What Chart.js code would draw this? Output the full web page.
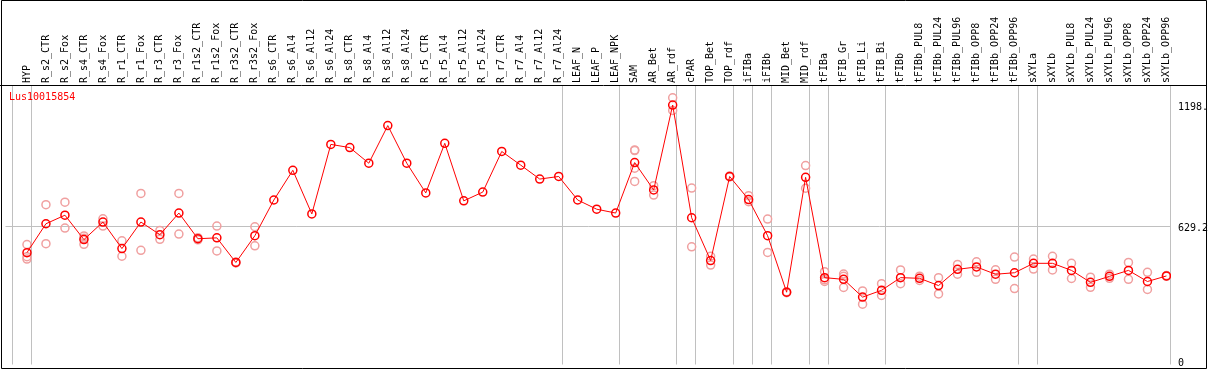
<!DOCTYPE html>
<html>
<head>
<meta charset="utf-8">
<script src="https://cdn.jsdelivr.net/npm/chart.js@4/dist/chart.umd.min.js"></script>
<style>
html,body{margin:0;padding:0;background:#fff;}
#wrap{width:1209px;height:370px;position:relative;}
</style>
</head>
<body>
<div id="wrap"><canvas id="c" width="1209" height="370"></canvas></div>
<script>
const geneName = "Lus10015854";
const categories = ["HYP","R_s2_CTR","R_s2_Fox","R_s4_CTR","R_s4_Fox","R_r1_CTR","R_r1_Fox","R_r3_CTR","R_r3_Fox","R_r1s2_CTR","R_r1s2_Fox","R_r3s2_CTR","R_r3s2_Fox","R_s6_CTR","R_s6_Al4","R_s6_Al12","R_s6_Al24","R_s8_CTR","R_s8_Al4","R_s8_Al12","R_s8_Al24","R_r5_CTR","R_r5_Al4","R_r5_Al12","R_r5_Al24","R_r7_CTR","R_r7_Al4","R_r7_Al12","R_r7_Al24","LEAF_N","LEAF_P","LEAF_NPK","SAM","AR_Bet","AR_rdf","cPAR","TOP_Bet","TOP_rdf","iFIBa","iFIBb","MID_Bet","MID_rdf","tFIBa","tFIB_Gr","tFIB_Li","tFIB_Bi","tFIBb","tFIBb_PUL8","tFIBb_PUL24","tFIBb_PUL96","tFIBb_OPP8","tFIBb_OPP24","tFIBb_OPP96","sXYLa","sXYLb","sXYLb_PUL8","sXYLb_PUL24","sXYLb_PUL96","sXYLb_OPP8","sXYLb_OPP24","sXYLb_OPP96"];
const meanValues = [508,643,683,569,651,527,651,592,693,573,577,462,587,754,893,689,1014,999,926,1102,926,787,1019,750,791,981,917,852,864,754,711,693,929,801,1198,671,471,864,756,587,323,860,391,383,300,332,391,388,354,430,441,407,414,458,458,425,369,397,425,373,399];
const rep1 = [546,732,744,586,666,563,785,612,785,578,632,464,629,null,null,null,null,null,null,null,null,null,null,null,null,null,null,null,null,null,null,null,988,821,1232,810,491,866,774,665,325,915,419,408,329,363,427,398,391,453,465,428,487,478,491,458,393,407,462,416,401];
const rep2 = [489,550,623,547,632,491,519,570,595,568,516,460,540,null,null,null,null,null,null,null,null,null,null,null,null,null,null,null,null,null,null,null,985,777,1173,535,450,862,746,509,321,809,373,397,267,308,363,378,315,407,416,383,340,431,427,387,346,388,383,336,397];
const rep3 = [478,null,null,575,null,null,null,null,null,null,null,null,null,null,null,null,null,null,null,null,null,null,null,null,null,null,null,null,null,null,null,null,903,null,null,null,null,null,null,null,null,null,381,345,null,null,null,null,null,null,null,null,null,null,null,null,null,null,null,null,null];
const rep4 = [null,null,null,null,null,null,null,null,null,null,null,null,null,null,null,null,null,null,null,null,null,null,null,null,null,null,null,null,null,null,null,null,841,null,null,null,null,null,null,null,null,null,null,null,null,null,null,null,null,null,null,null,null,null,null,null,null,null,null,null,null];
// group boundaries: grid line drawn after these category indices
const groupEnds = [-1,0,28,31,34,35,37,38,39,41,42,45,52,53,60];
const yTickValues = [0,629.2,1198];
const yTickLabels = ["0","629.2","1198."];

const GRID_OFF = 0.22;
const mainPts = meanValues.map((v,i)=>({x:i,y:v}));
const repPts = [];
[rep1,rep2,rep3,rep4].forEach(r=>r.forEach((v,i)=>{ if(v!==null) repPts.push({x:i,y:v}); }));

const frame = {
  id:'frame',
  afterDraw(chart){
    const ctx = chart.ctx;
    ctx.save();
    ctx.strokeStyle = '#000';
    ctx.lineWidth = 1;
    ctx.beginPath();
    ctx.rect(1.5,0.5,1205,368);
    ctx.moveTo(0,85.5); ctx.lineTo(1207,85.5);
    ctx.stroke();
    ctx.fillStyle = '#ff0000';
    ctx.font = '10px "DejaVu Sans Mono"';
    ctx.textBaseline = 'alphabetic';
    ctx.textAlign = 'left';
    ctx.fillText(geneName, 9, 100);
    ctx.restore();
  }
};

new Chart(document.getElementById('c'), {
  type:'line',
  data:{
    datasets:[
      {data:mainPts, borderColor:'#ff0000', borderWidth:1, pointRadius:4, pointHoverRadius:4,
       pointBorderWidth:1.5, pointBorderColor:'#ff0000', pointBackgroundColor:'rgba(0,0,0,0)', tension:0, fill:false},
      {type:'scatter', data:repPts, showLine:false, pointRadius:4, pointBorderWidth:1.5,
       pointBorderColor:'#f0a0a0', borderColor:'#f0a0a0', pointBackgroundColor:'rgba(0,0,0,0)'}
    ]
  },
  options:{
    responsive:false, animation:false, devicePixelRatio:1,
    layout:{padding:{left:2,right:0,top:0,bottom:0}},
    plugins:{legend:{display:false}, tooltip:{enabled:false}},
    scales:{
      x:{type:'linear', position:'top', min:-1.13, max:60.24,
        afterBuildTicks(s){
          const t=[];
          for(let i=0;i<categories.length;i++) t.push({value:i});
          groupEnds.forEach(g=>t.push({value:g+GRID_OFF}));
          s.ticks=t;
        },
        afterFit(s){ s.height=86; s.paddingLeft=0; s.paddingRight=0; s.paddingTop=0; s.paddingBottom=0; },
        ticks:{autoSkip:false, minRotation:90, maxRotation:90, padding:3, labelOffset:12, color:'#000',
          font:{family:'"DejaVu Sans Mono"', size:10},
          callback(v){ return Number.isInteger(v) ? categories[v] : ''; }},
        grid:{drawTicks:false, color(ctx){ return ctx.tick && !Number.isInteger(ctx.tick.value) ? '#c0c0c0' : 'rgba(0,0,0,0)'; }, lineWidth:1},
        border:{display:false}
      },
      y:{type:'linear', position:'right', min:-15, max:1287,
        afterBuildTicks(s){ s.ticks = yTickValues.map(v=>({value:v})); },
        afterFit(s){ s.width=38; s.paddingLeft=0; s.paddingRight=0; s.paddingTop=0; s.paddingBottom=0; },
        ticks:{padding:7, labelOffset:2, color:'#000', font:{family:'"DejaVu Sans Mono"', size:10},
          callback(v){ const k=yTickValues.indexOf(v); return k>=0 ? yTickLabels[k] : ''; }},
        grid:{drawTicks:false, color(ctx){ return ctx.tick && ctx.tick.value===629.2 ? '#c0c0c0' : 'rgba(0,0,0,0)'; }},
        border:{display:false}
      }
    }
  },
  plugins:[frame]
});
</script>
</body>
</html>
